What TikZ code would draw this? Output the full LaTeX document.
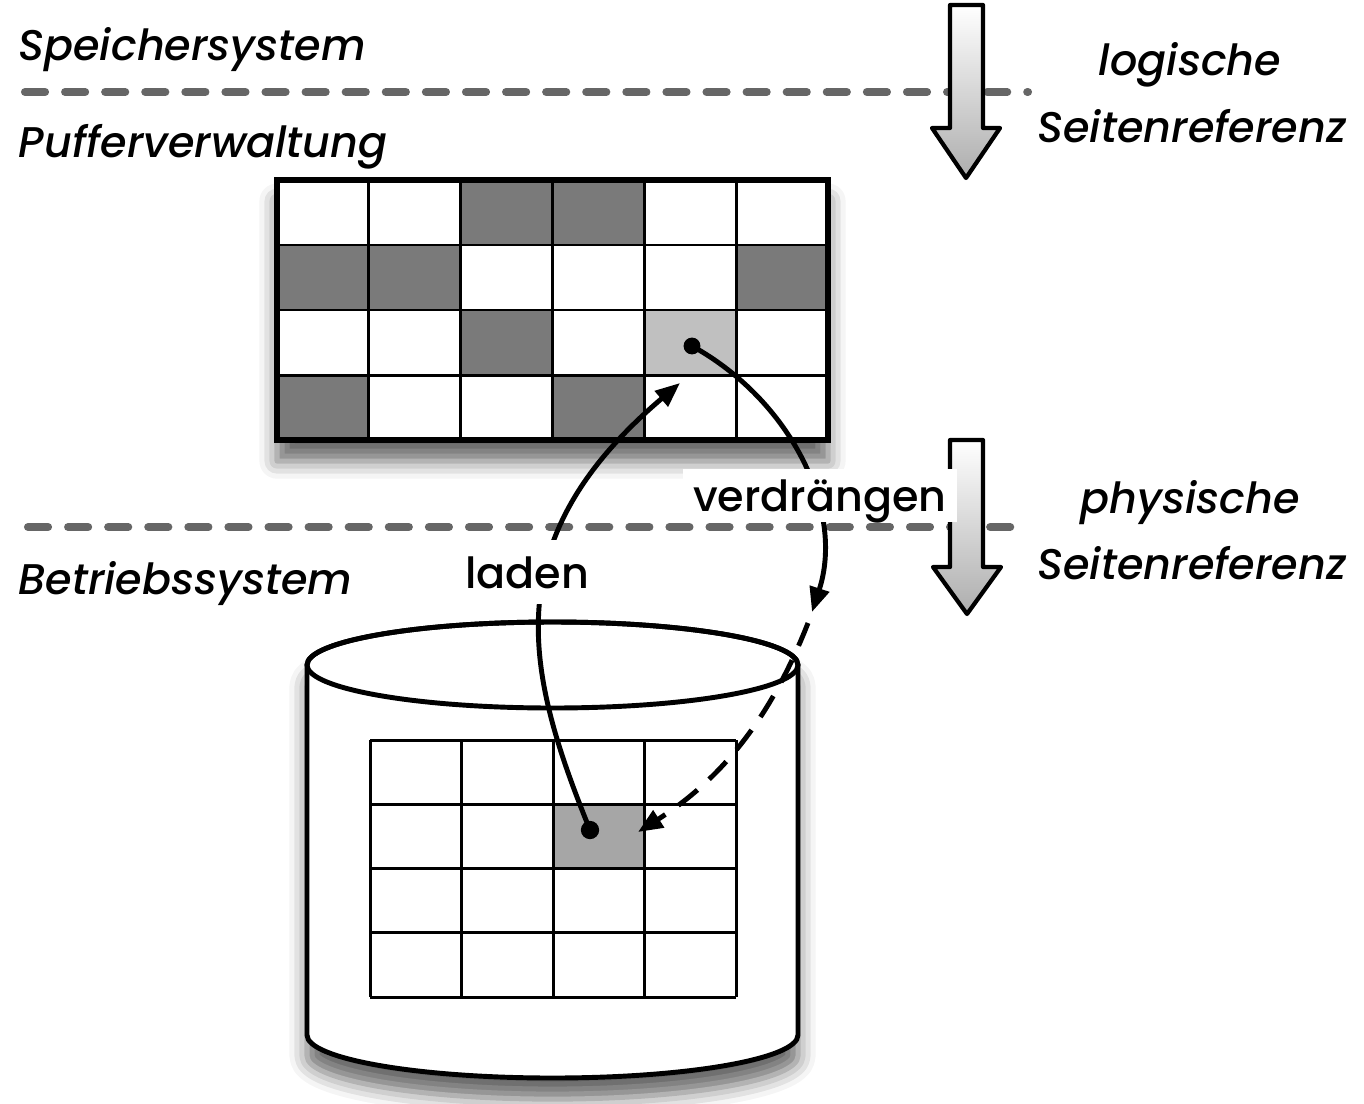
\documentclass[tikz,border=0pt]{standalone}
\usepackage{fontspec}
\setmainfont{Poppins}[UprightFont={* Medium}, ItalicFont={* Medium Italic}]
\usetikzlibrary{arrows.meta, positioning, shadows.blur}
\definecolor{PageBlack}{HTML}{000000}
\definecolor{PageWhite}{HTML}{ffffff}
\definecolor{PageDark}{HTML}{7A7A7A}
\definecolor{PageHit}{HTML}{C0C0C0}
\definecolor{PageDisk}{HTML}{A6A6A6}
\definecolor{LayerGray}{HTML}{666666}
\colorlet{LayerLine}{LayerGray}
\colorlet{ArrowTop}{PageWhite}
\colorlet{ArrowBottom}{PageBlack!32}
\tikzset{
  layerline/.style={LayerLine, line width=2.3pt, line cap=round, dash pattern=on 5.7pt off 5.7pt},
  layertext/.style={anchor=base west, inner sep=0pt, font=\fontsize{12.2pt}{15pt}\selectfont\itshape},
  reftext/.style={anchor=base, inner sep=0pt, font=\fontsize{12.2pt}{15pt}\selectfont\itshape},
  flowtext/.style={anchor=base, fill=PageWhite, text depth=0pt, font=\fontsize{12.2pt}{15pt}\selectfont},
  gridline/.style={draw=PageBlack, line width=0.85pt},
  dot/.style={circle, fill=PageBlack, inner sep=0pt, minimum size=4.8pt},
  flow/.style={draw=PageBlack, line width=1.4pt, -{Triangle[length=7pt, width=5.6pt]}},
  refarrow/.style={draw=PageBlack, line width=1.2pt, line join=round, top color=ArrowTop, bottom color=ArrowBottom},
  softshadow/.style={blur shadow={shadow xshift=0pt, shadow yshift=-6pt, shadow blur radius=5pt, shadow opacity=60}}
}

\begin{document}
\begin{tikzpicture}[x=0.01cm, y=-0.01cm]

    \useasboundingbox (0,0) rectangle (1364,1103);

    % Layers
    \draw[layerline] (25,92) -- (1028,92);
    \draw[layerline] (28,527) -- (1028,527);
    \node[layertext] (speicher) at (18,60) {Speichersystem};
    \node[layertext] (puffer) at (18,157) {Pufferverwaltung};
    \node[layertext] (betrieb) at (18,594) {Betriebssystem};

    % Page references
    \draw[refarrow] (950,5) -- (983,5) -- (983,128) -- (1000,128) -- (966,178) -- (932,128) -- (950,128) -- cycle;
    \draw[refarrow] (950,440) -- (983,440) -- (983,567) -- (1001,567) -- (967,614) -- (933,567) -- (950,567) -- cycle;
    \node[reftext] (logref) at (1190,75) {logische};
    \node[reftext] (logref2) at (1192,142) {Seitenreferenz};
    \node[reftext] (physref) at (1190,513) {physische};
    \node[reftext] (physref2) at (1192,579) {Seitenreferenz};

    % Buffer
    \fill[PageWhite, softshadow] (277,180) rectangle (828,440);
    \foreach \c/\r in {2/0,3/0,0/1,1/1,5/1,2/2,0/3,3/3}
        \fill[PageDark] ({277+\c*91.83},{180+\r*65}) rectangle ++(91.83,65);
    \fill[PageHit] ({277+4*91.83},{180+2*65}) rectangle ++(91.83,65);
    \foreach \i in {1,...,5}
        \draw[gridline] ({277+\i*91.83},180) -- ++(0,260);
    \foreach \j in {1,2,3}
        \draw[gridline] (277,{180+\j*65}) -- ++(551,0);
    \draw[PageBlack, line width=1.5pt] (277,180) rectangle (828,440);

    % Disk
    \draw[PageBlack, fill=PageWhite, line width=1.4pt, softshadow] (307,665) -- (307,1035)
        arc[start angle=180, end angle=0, x radius=245.5, y radius=43] -- (798,665)
        arc[start angle=0, end angle=-180, x radius=245.5, y radius=43] -- cycle;
    \draw[PageBlack, line width=1.4pt] (552.5,665) ellipse[x radius=245.5, y radius=43];
    \fill[PageDisk] (553,805) rectangle (644,869);
    \foreach \i in {0,...,4}
        \draw[gridline] ({370+\i*91.5},740) -- ++(0,257);
    \foreach \j in {0,...,4}
        \draw[gridline] (370,{740+\j*64.25}) -- ++(366,0);

    % Pages
    \node[dot] (pbuf) at (692,346) {};
    \node[dot, minimum size=5.2pt] (pdisk) at (590,830) {};
    \coordinate (bufin) at (680,383);
    \coordinate (swapmid) at (812,612);
    \coordinate (swapgo) at (808,623);
    \coordinate (diskin) at (638,832);

    % Load and evict
    \draw[flow] (pdisk.center) .. controls (525,670) and (495,540) .. (bufin);
    \draw[flow] (pbuf.center) .. controls (790,400) and (845,510) .. (swapmid);
    \draw[flow, dash pattern=on 7pt off 4.5pt] (swapgo) .. controls (770,720) and (720,780) .. (diskin);
    \node[flowtext, inner ysep=4.5pt] (laden) at (527,588) {laden};
    \node[flowtext, inner xsep=3pt, inner ysep=3pt] (verdr) at (820,511) {verdrängen};

\end{tikzpicture}
\end{document}
